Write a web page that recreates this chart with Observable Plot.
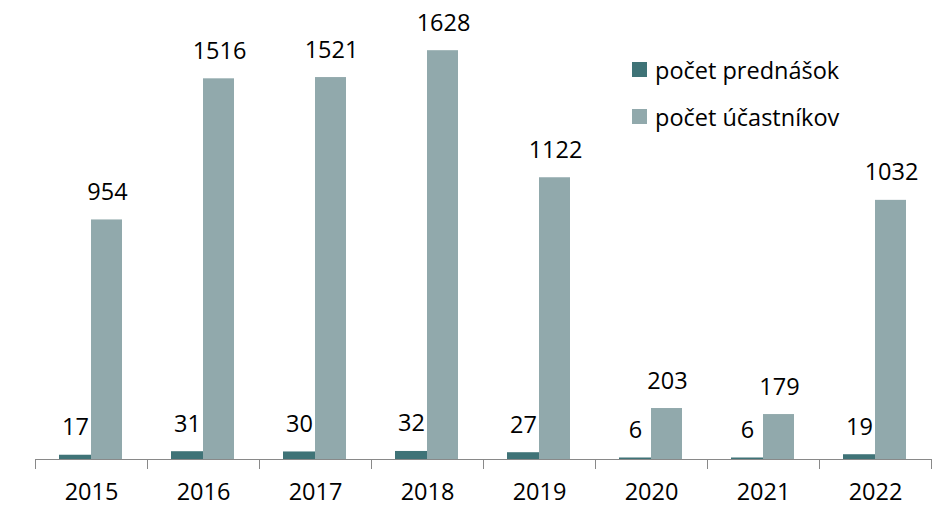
<!DOCTYPE html>
<html>
<head>
<meta charset="utf-8">
<script src="https://cdn.jsdelivr.net/npm/d3@7"></script>
<script src="https://cdn.jsdelivr.net/npm/@observablehq/plot@0.6"></script>
<style>
  html, body { margin: 0; padding: 0; background: #fff; }
  #wrap { position: relative; width: 938px; height: 506px; font-family: "Open Sans", sans-serif; }
  #legend { position: absolute; left: 632px; top: 46px; font-size: 23.5px; color: #000; }
  .item { display: flex; align-items: center; height: 47px; }
  .sw { width: 15px; height: 15px; margin-right: 8px; }
</style>
</head>
<body>
<div id="wrap"><div id="chart"></div><div id="legend"></div></div>
<script>
const years = ["2015", "2016", "2017", "2018", "2019", "2020", "2021", "2022"];
const prednasok = [17, 31, 30, 32, 27, 6, 6, 19];
const ucastnikov = [954, 1516, 1521, 1628, 1122, 203, 179, 1032];
const seriesNames = ["počet prednášok", "počet účastníkov"];
const colors = ["#3f7377", "#91a9ac"];

const dataP = years.map((y, i) => ({year: y, value: prednasok[i]}));
const dataU = years.map((y, i) => ({year: y, value: ucastnikov[i]}));
const axisColor = "#898989";
const font = "Open Sans, sans-serif";

const chart = Plot.plot({
  width: 938,
  height: 506,
  marginLeft: 35,
  marginRight: 7,
  marginTop: 7,
  marginBottom: 47,
  style: {fontFamily: font, fontSize: "23.5px", color: "#000", background: "#fff", overflow: "visible"},
  x: {domain: years, padding: 0, tickSize: 0, tickPadding: 24, label: null},
  y: {domain: [0, 1800], axis: null},
  marks: [
    Plot.barY(dataP, {x: "year", y: "value", fill: colors[0], insetLeft: 24, insetRight: 56}),
    Plot.barY(dataU, {x: "year", y: "value", fill: colors[1], insetLeft: 56, insetRight: 25}),
    Plot.ruleY([0], {stroke: axisColor, strokeWidth: 1}),
    Plot.ruleX(years, {x: d => d, dx: -56, y1: 0, y2: 0, insetBottom: -10, stroke: axisColor}),
    Plot.ruleX([years[years.length - 1]], {x: d => d, dx: 56, y1: 0, y2: 0, insetBottom: -10, stroke: axisColor}),
    Plot.text(dataP, {x: "year", y: "value", text: d => String(d.value), dx: -16, dy: -20, lineAnchor: "bottom", fontSize: 23.5, fill: "#000"}),
    Plot.text(dataU, {x: "year", y: "value", text: d => String(d.value), dx: 16, dy: -20, lineAnchor: "bottom", fontSize: 23.5, fill: "#000"})
  ]
});
document.getElementById("chart").appendChild(chart);

const legend = document.getElementById("legend");
seriesNames.forEach((name, i) => {
  const item = document.createElement("div");
  item.className = "item";
  const sw = document.createElement("div");
  sw.className = "sw";
  sw.style.background = colors[i];
  const label = document.createElement("span");
  label.textContent = name;
  item.appendChild(sw);
  item.appendChild(label);
  legend.appendChild(item);
});
</script>
</body>
</html>
